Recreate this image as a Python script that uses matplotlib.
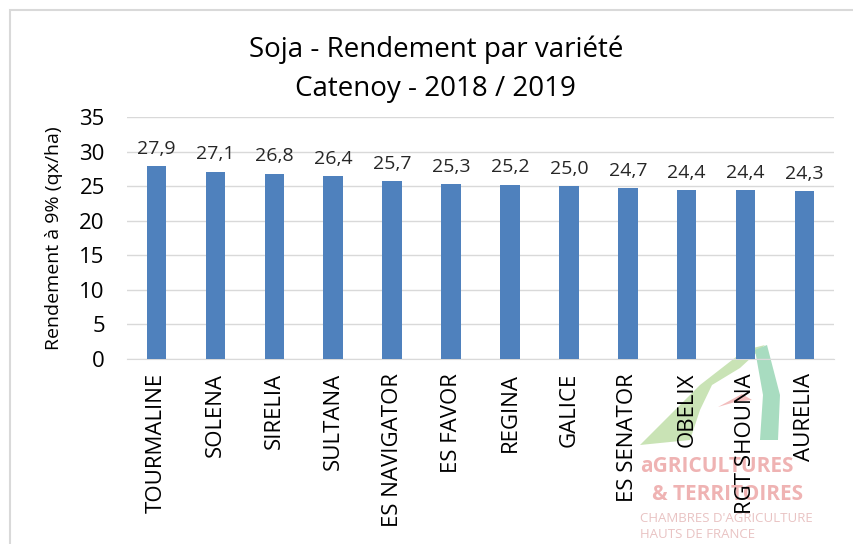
import matplotlib.pyplot as plt
from matplotlib.patches import Rectangle, Polygon

varietes = ["TOURMALINE", "SOLENA", "SIRELIA", "SULTANA", "ES NAVIGATOR", "ES FAVOR",
            "REGINA", "GALICE", "ES SENATOR", "OBELIX", "RGT SHOUNA", "AURELIA"]
rendement = [27.9, 27.1, 26.8, 26.4, 25.7, 25.3, 25.2, 25.0, 24.7, 24.4, 24.4, 24.3]
yticks = [0, 5, 10, 15, 20, 25, 30, 35]

plt.rcParams['font.family'] = ['Open Sans', 'DejaVu Sans']

fig = plt.figure(figsize=(8.54, 5.44), dpi=100)
W, H = 854, 544


def fxy(px, py):
    return (px / W, 1 - py / H)


# chart border
fig.patches.append(Rectangle((10 / W, -0.1), 1.2, 1 - 10 / H + 0.1, transform=fig.transFigure,
                             fill=False, edgecolor="#D9D9D9", linewidth=1.5))

# faint logo watermark (drawn behind the axes)
fig.patches.append(Polygon([fxy(640, 445), fxy(700, 385), fxy(745, 350), fxy(765, 345),
                            fxy(740, 368), fxy(712, 385), fxy(700, 410), fxy(690, 440)],
                           closed=True, transform=fig.transFigure, facecolor="#C9E3B5",
                           edgecolor="none", zorder=0))
fig.patches.append(Polygon([fxy(755, 350), fxy(767, 345), fxy(780, 395), fxy(778, 440),
                            fxy(760, 440), fxy(763, 395)], closed=True,
                           transform=fig.transFigure, facecolor="#A8DCC0",
                           edgecolor="none", zorder=0))
fig.patches.append(Polygon([fxy(718, 407), fxy(742, 394), fxy(752, 400), fxy(735, 402)],
                           closed=True, transform=fig.transFigure, facecolor="#F2BDBD",
                           edgecolor="none", zorder=0))
fig.text(640 / W, 1 - 467 / H, "aGRICULTURES", color="#EFB3B3", fontsize=15, fontweight="bold",
         va="center", ha="left", zorder=0)
fig.text(652 / W, 1 - 494 / H, "& TERRITOIRES", color="#EFB3B3", fontsize=15, fontweight="bold",
         va="center", ha="left", zorder=0)
fig.text(640 / W, 1 - 518 / H, "CHAMBRES D'AGRICULTURE", color="#E9C3C3", fontsize=9.5,
         va="center", ha="left", zorder=0)
fig.text(640 / W, 1 - 534 / H, "HAUTS DE FRANCE", color="#E9C3C3", fontsize=9.5,
         va="center", ha="left", zorder=0)

ax = fig.add_axes([127 / W, 1 - 359 / H, (834 - 127) / W, (359 - 117) / H])
ax.set_zorder(2)
ax.patch.set_alpha(0)
x = range(len(varietes))
bars = ax.bar(x, rendement, width=0.33, color="#4F81BD", zorder=3)
for xi, v in zip(x, rendement):
    ax.annotate(f"{v:.1f}".replace(".", ","), (xi, v), xytext=(0, 6), textcoords="offset points",
                ha="center", va="bottom", fontsize=14, color="#262626")

ax.set_xlim(-0.5, len(varietes) - 0.5)
ax.set_ylim(0, 35)
ax.set_yticks(yticks)
ax.grid(axis="y", color="#D9D9D9", linewidth=1, zorder=0)
for s in ["top", "right", "left"]:
    ax.spines[s].set_visible(False)
ax.spines["bottom"].set_color("#D9D9D9")
ax.tick_params(axis="both", length=0, labelsize=16, labelcolor="#000000")
ax.tick_params(axis="y", pad=16)
ax.tick_params(axis="x", pad=10)
ax.set_xticks(list(x))
ax.set_xticklabels(varietes, rotation=90, va="top", ha="center")
ax.set_ylabel("Rendement à 9% (qx/ha)", fontsize=14, labelpad=12)

fig.text(436 / W, 1 - 50 / H, "Soja - Rendement par variété", ha="center", va="center", fontsize=20)
fig.text(435 / W, 1 - 89 / H, "Catenoy - 2018 / 2019", ha="center", va="center", fontsize=20)

fig.savefig("out.png", dpi=100)
